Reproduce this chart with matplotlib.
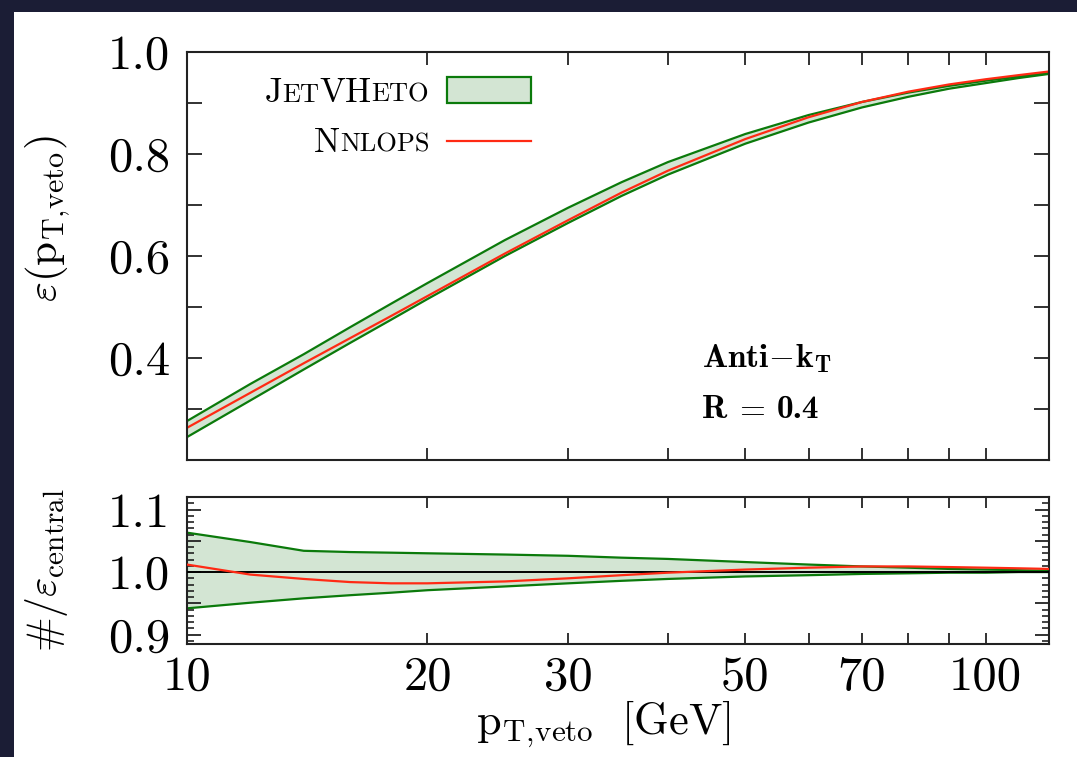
import matplotlib
matplotlib.use("Agg")
import matplotlib.pyplot as plt
import numpy as np
from matplotlib.patches import Rectangle
from matplotlib.ticker import FixedLocator, FixedFormatter, MultipleLocator, NullLocator

plt.rcParams["font.family"] = "serif"
plt.rcParams["font.serif"] = ["cmr10"]
plt.rcParams["mathtext.fontset"] = "cm"
plt.rcParams["axes.unicode_minus"] = False

# pT,veto grid [GeV]
pt_veto = [10, 12, 14, 16, 18, 20, 25, 30, 35, 40, 50, 60, 70, 80, 90, 100, 110, 120]
# JetVHeto central efficiency
eff_central = [0.260, 0.333, 0.394, 0.446, 0.491, 0.531, 0.614, 0.677, 0.728, 0.768,
               0.826, 0.866, 0.894, 0.914, 0.929, 0.940, 0.949, 0.957]
# JetVHeto band edges, relative to central
band_hi = [1.063, 1.048, 1.034, 1.032, 1.031, 1.030, 1.028, 1.026, 1.023, 1.021,
           1.016, 1.012, 1.009, 1.007, 1.005, 1.004, 1.003, 1.002]
band_lo = [0.942, 0.951, 0.958, 0.963, 0.967, 0.971, 0.977, 0.982, 0.986, 0.989,
           0.993, 0.995, 0.997, 0.998, 0.999, 0.999, 1.000, 1.000]
# NNLOPS relative to JetVHeto central
nnlops_ratio = [1.012, 0.996, 0.989, 0.984, 0.982, 0.982, 0.985, 0.990, 0.995, 0.999,
                1.004, 1.007, 1.009, 1.009, 1.008, 1.007, 1.006, 1.005]

x_major = [10, 20, 30, 40, 50, 60, 70, 80, 90, 100]
x_labels = ["10", "20", "30", "", "50", "", "70", "", "", "100"]
top_yticks = [0.3, 0.4, 0.5, 0.6, 0.7, 0.8, 0.9, 1.0]
top_ylabels = ["", "0.4", "", "0.6", "", "0.8", "", "1.0"]
bot_yticks = [0.9, 0.95, 1.0, 1.05, 1.1]
bot_ylabels = ["0.9", "", "1.0", "", "1.1"]

GREEN = "#0b7a0b"
FILL = "#d3e5d3"
RED = "#ff2a14"

x = np.array(pt_veto)
cen = np.array(eff_central)
hi = np.array(band_hi)
lo = np.array(band_lo)
rr = np.array(nnlops_ratio)

W, H = 1077, 757
fig = plt.figure(figsize=(W / 100, H / 100), dpi=100, facecolor="#1b1d35")
fig.patches.append(Rectangle((14 / W, 0), 1, 1 - 12 / H, transform=fig.transFigure,
                             facecolor="white", edgecolor="none", zorder=-1))

ax1 = fig.add_axes([187 / W, (H - 460) / H, 862 / W, 408 / H])
ax2 = fig.add_axes([187 / W, (H - 644) / H, 862 / W, 147 / H])

# top panel
ax1.fill_between(x, cen * lo, cen * hi, color=FILL, lw=0)
ax1.plot(x, cen * hi, color=GREEN, lw=1.6)
ax1.plot(x, cen * lo, color=GREEN, lw=1.6)
ax1.plot(x, cen * rr, color=RED, lw=1.6)

# ratio panel
ax2.fill_between(x, lo, hi, color=FILL, lw=0)
ax2.plot(x, hi, color=GREEN, lw=1.6)
ax2.plot(x, lo, color=GREEN, lw=1.6)
ax2.axhline(1.0, color="black", lw=1.4, zorder=3)
ax2.plot(x, rr, color=RED, lw=1.6, zorder=4)

for ax in (ax1, ax2):
    ax.set_xscale("log")
    ax.set_xlim(10, 120)
    ax.xaxis.set_major_locator(FixedLocator(x_major))
    ax.xaxis.set_minor_locator(NullLocator())
    ax.tick_params(which="both", direction="in", top=True, right=True, width=1.3,
                   labelsize=35, color="#222222")
    for s in ax.spines.values():
        s.set_linewidth(1.5)
        s.set_color("#222222")

ax1.set_ylim(0.2, 1.0)
ax1.xaxis.set_major_formatter(FixedFormatter([""] * len(x_major)))
ax1.yaxis.set_major_locator(FixedLocator(top_yticks))
ax1.yaxis.set_major_formatter(FixedFormatter(top_ylabels))
ax1.tick_params(axis="x", length=9)
ax1.tick_params(axis="y", length=11, pad=12)

ax2.set_ylim(0.885, 1.12)
ax2.xaxis.set_major_formatter(FixedFormatter(x_labels))
ax2.yaxis.set_major_locator(FixedLocator(bot_yticks))
ax2.yaxis.set_major_formatter(FixedFormatter(bot_ylabels))
ax2.yaxis.set_minor_locator(MultipleLocator(0.01))
ax2.tick_params(axis="x", length=8, pad=8)
ax2.tick_params(axis="y", which="major", length=10, pad=12)
ax2.tick_params(axis="y", which="minor", length=5, width=1.2)


def small_caps(ax, x_right, y, parts, big=25, small=19):
    prev = None
    for txt, is_big in reversed(parts):
        size = big if is_big else small
        if prev is None:
            t = ax.text(x_right, y, txt, transform=ax.transAxes, ha="right",
                        va="baseline", fontsize=size)
        else:
            t = ax.annotate(txt, xy=(0, y), xycoords=(prev, ax.transAxes), ha="right",
                            va="baseline", fontsize=size)
        prev = t


small_caps(ax1, 0.281, 0.878, [("J", True), ("ET", False), ("VH", True), ("ETO", False)])
small_caps(ax1, 0.281, 0.755, [("N", True), ("NLOPS", False)])
ax1.add_patch(Rectangle((0.302, 0.875), 0.097, 0.064, transform=ax1.transAxes,
                        facecolor=FILL, edgecolor=GREEN, lw=1.6))
ax1.plot([0.302, 0.399], [0.782, 0.782], transform=ax1.transAxes, color=RED, lw=1.6)

ax1.text(0.597, 0.228, r"$\mathbf{Anti}\!-\!\mathbf{k}_\mathbf{T}$", transform=ax1.transAxes,
         fontsize=24, va="baseline")
ax1.text(0.597, 0.103, "R", transform=ax1.transAxes, fontsize=24, va="baseline",
         fontfamily="cmb10")
ax1.text(0.634, 0.103, r"$=$", transform=ax1.transAxes, fontsize=24, va="baseline")
ax1.text(0.684, 0.103, "0.4", transform=ax1.transAxes, fontsize=24, va="baseline",
         fontfamily="cmb10")

fig.text(48 / W, (H - 219) / H, r"$\varepsilon(\mathrm{p}_{\mathrm{T,\!veto}})$", rotation=90,
         ha="center", va="center", fontsize=31)
fig.text(46 / W, (H - 570) / H, r"$\#/\varepsilon_{\mathrm{central}}$", rotation=90,
         ha="center", va="center", fontsize=30)
fig.text(603 / W, (H - 734) / H, r"$\mathrm{p}_{\mathrm{T,\!veto}}\ \ [\mathrm{GeV}]$",
         ha="center", va="baseline", fontsize=32)

fig.savefig("out.png", dpi=100, facecolor=fig.get_facecolor())
